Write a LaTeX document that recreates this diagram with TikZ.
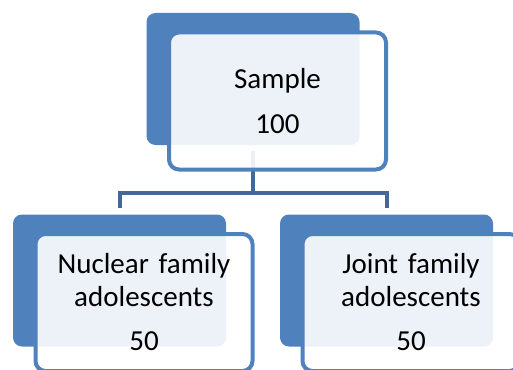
\documentclass[tikz,border=0pt]{standalone}
\usepackage{fontspec}
\setmainfont{Carlito}
\usetikzlibrary{calc}
\definecolor{boxblue}{RGB}{79,129,189}
\definecolor{linkblue}{RGB}{65,104,153}

\begin{document}
\begin{tikzpicture}[x=1pt, y=-1pt,
		back node/.style={rectangle, rounded corners=9pt, fill=boxblue, minimum width=213pt, minimum height=132pt, inner sep=0pt},
		front node/.style={rectangle, rounded corners=10pt, draw=boxblue, line width=4pt, fill=white, fill opacity=0.9, text opacity=1, minimum width=217pt, minimum height=137pt, inner sep=0pt, text width=205pt, align=center, font=\fontsize{29}{33}\selectfont},
		link/.style={draw=linkblue, line width=4pt}]
		
		\useasboundingbox (0,0) rectangle (513,369);
		\clip (0,0) rectangle (513,369);
		
		\node[back node] (sback) at (253,79) {};
		\node[back node] (nback) at (119.5,280.5) {};
		\node[back node] (jback) at (386.5,280.5) {};
		
		\coordinate (bar) at ($(sback.south)+(0,48)$);
		\draw[link, shorten <=6pt] (sback.south) -- (bar);
		\draw[link, shorten <=6pt, shorten >=6pt] (nback.north) |- (bar) -| (jback.north);
		
		\node[front node] (sample) at ([shift={(24.5,22)}]sback.center) {Sample\\[12pt]100};
		\node[front node] (nuclear) at ([shift={(24.5,22)}]nback.center) {Nuclear family\\adolescents\\[11pt]50};
		\node[front node] (joint) at ([shift={(24.5,22)}]jback.center) {Joint family\\adolescents\\[11pt]50};
		\end{tikzpicture}
\end{document}
